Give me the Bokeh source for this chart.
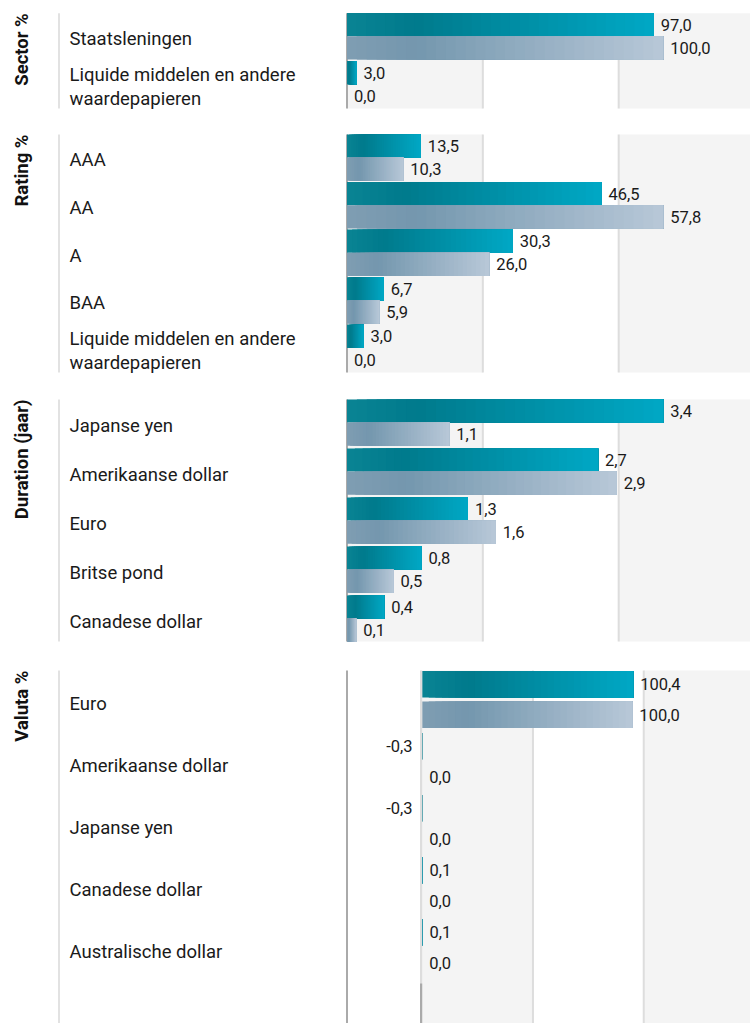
import numpy as np
from bokeh.plotting import figure
from bokeh.layouts import column
from bokeh.models import Range1d, ColumnDataSource
from bokeh.core.properties import value
from bokeh.embed import file_html
from bokeh.resources import INLINE

# ---------------- data ----------------
sector_title = "Sector %"
sector_cats = ["Staatsleningen", "Liquide middelen en andere\nwaardepapieren"]
sector_fund = [97.0, 3.0]
sector_bench = [100.0, 0.0]

rating_title = "Rating %"
rating_cats = ["AAA", "AA", "A", "BAA", "Liquide middelen en andere\nwaardepapieren"]
rating_fund = [13.5, 46.5, 30.3, 6.7, 3.0]
rating_bench = [10.3, 57.8, 26.0, 5.9, 0.0]

duration_title = "Duration (jaar)"
duration_cats = ["Japanse yen", "Amerikaanse dollar", "Euro", "Britse pond", "Canadese dollar"]
duration_fund = [3.4, 2.7, 1.3, 0.8, 0.4]
duration_bench = [1.1, 2.9, 1.6, 0.5, 0.1]

valuta_title = "Valuta %"
valuta_cats = ["Euro", "Amerikaanse dollar", "Japanse yen", "Canadese dollar", "Australische dollar"]
valuta_fund = [100.4, -0.3, -0.3, 0.1, 0.1]
valuta_bench = [100.0, 0.0, 0.0, 0.0, 0.0]

# ---------------- layout / style ----------------
PAGE_X0 = 0
FIG_W = 750
FONT = "Roboto"
TEXT_COLOR = "#1a1a1a"
BAND_COLOR = "#f4f4f4"
GRID_COLOR = "#dddddd"
AXIS_COLOR = "#aaaaaa"
SEP_COLOR = "#d9d9d9"
TEAL_STOPS = [(0.0, (10, 132, 148)), (0.22, (0, 122, 140)), (1.0, (0, 168, 197))]
GREY_STOPS = [(0.0, (127, 157, 178)), (0.22, (116, 151, 174)), (1.0, (184, 200, 216))]
N_SLICES = 32

COMMON = dict(sep_px=58.5, label_px=69, title_px=21.5, band_end=754, axis_px=346.5)
SPECS = [
    dict(fig_top=0, fig_h=121, panel_top=12.7, pitch=48.0, region_bottom=108,
         zero_px=346.5, max_px=662.7, fund_c=11.5, bench_c=34.7, bar_h=23.2, dark_zero_from=None),
    dict(fig_top=121, fig_h=265, panel_top=134, pitch=47.6, region_bottom=372,
         zero_px=346.5, max_px=662.7, fund_c=11.5, bench_c=34.7, bar_h=23.2, dark_zero_from=None),
    dict(fig_top=386, fig_h=270, panel_top=399, pitch=49.0, region_bottom=641,
         zero_px=346.5, max_px=662.7, fund_c=11.5, bench_c=34.7, bar_h=23.2, dark_zero_from=None),
    dict(fig_top=656, fig_h=367, panel_top=670, pitch=62.0, region_bottom=None,
         zero_px=421.7, max_px=632.7, fund_c=13.7, bench_c=44.2, bar_h=26.5, dark_zero_from=983),
]


def interp_color(stops, t):
    for (t0, c0), (t1, c1) in zip(stops[:-1], stops[1:]):
        if t <= t1:
            f = (t - t0) / (t1 - t0) if t1 > t0 else 0
            c = [round(a + (b - a) * f) for a, b in zip(c0, c1)]
            return "#%02x%02x%02x" % tuple(c)
    return "#%02x%02x%02x" % stops[-1][1]


def fmt(v):
    return ("%.1f" % v).replace(".", ",")


def build(title, cats, fund, bench, spec):
    spec = {**COMMON, **spec}
    n = len(cats)
    pitch = spec["pitch"]
    vmax = max(max(fund), max(bench))
    u = vmax / (spec["max_px"] - spec["zero_px"])

    def dx(ax):
        return (ax - spec["zero_px"]) * u

    def dy(ay):
        return (ay - spec["panel_top"]) / pitch

    fig_top = spec["fig_top"]
    fig_bot = fig_top + spec["fig_h"]
    p = figure(width=FIG_W, height=spec["fig_h"],
               x_range=Range1d(dx(PAGE_X0), dx(PAGE_X0 + FIG_W)),
               y_range=Range1d(dy(fig_bot), dy(fig_top)),
               x_axis_type=None, y_axis_type=None, toolbar_location=None,
               output_backend="svg", min_border=0, outline_line_color=None,
               background_fill_color="white", border_fill_color="white")

    reg_bot = dy(spec["region_bottom"]) if spec["region_bottom"] else dy(fig_bot + 2)

    # alternating background bands and grid lines
    bw = (spec["band_end"] - spec["zero_px"]) / 3 * u
    p.quad(left=[0, 2 * bw], right=[bw, 3 * bw], top=0, bottom=reg_bot,
           fill_color=BAND_COLOR, line_color=None)
    p.segment(x0=[bw, 2 * bw], x1=[bw, 2 * bw], y0=0, y1=reg_bot,
              line_color=GRID_COLOR, line_width=2)
    # left separator and axis lines
    p.segment(x0=[dx(spec["sep_px"])], x1=[dx(spec["sep_px"])], y0=0, y1=reg_bot,
              line_color=SEP_COLOR, line_width=1.5)
    p.segment(x0=[dx(spec["axis_px"])], x1=[dx(spec["axis_px"])], y0=0, y1=reg_bot,
              line_color=AXIS_COLOR, line_width=2)

    # gradient bars (painted as overlapping slices)
    ys, lefts, rights, cols = [], [], [], []
    for vals, c_px, stops in ((fund, spec["fund_c"], TEAL_STOPS), (bench, spec["bench_c"], GREY_STOPS)):
        for i, v in enumerate(vals):
            if v == 0:
                continue
            for k in range(N_SLICES):
                ys.append(i + c_px / pitch)
                lefts.append(v * k / N_SLICES)
                rights.append(v)
                cols.append(interp_color(stops, (k + 0.5) / N_SLICES))
    src = ColumnDataSource(dict(y=ys, left=lefts, right=rights, color=cols))
    p.hbar(y="y", left="left", right="right", height=spec["bar_h"] / pitch,
           fill_color="color", line_color=None, source=src)

    # separate zero line (when the zero is not at the axis), drawn over tiny negative bars
    if spec["axis_px"] != spec["zero_px"]:
        zx = -1.1 * u
        p.segment(x0=[zx], x1=[zx], y0=0, y1=reg_bot, line_color=GRID_COLOR, line_width=2.2)
        if spec["dark_zero_from"]:
            p.segment(x0=[zx], x1=[zx], y0=dy(spec["dark_zero_from"]), y1=reg_bot,
                      line_color=AXIS_COLOR, line_width=2.2)

    # value labels
    pos = dict(x=[], y=[], t=[])
    neg = dict(x=[], y=[], t=[])
    for vals, c_px in ((fund, spec["fund_c"]), (bench, spec["bench_c"])):
        for i, v in enumerate(vals):
            d = neg if v < 0 else pos
            d["x"].append(v)
            d["y"].append(i + c_px / pitch)
            d["t"].append(fmt(v))
    p.text(x="x", y="y", text="t", source=ColumnDataSource(pos), x_offset=7,
           text_align="left", text_baseline="middle", text_font=value(FONT),
           text_font_size="16.5px", text_color=TEXT_COLOR)
    if neg["x"]:
        p.text(x="x", y="y", text="t", source=ColumnDataSource(neg), x_offset=-9,
               text_align="right", text_baseline="middle", text_font=value(FONT),
               text_font_size="16.5px", text_color=TEXT_COLOR)

    # category labels
    p.text(x=dx(spec["label_px"]), y=[i + 0.5 for i in range(n)], text=cats,
           text_align="left", text_baseline="middle", text_font=value(FONT),
           text_font_size="18.5px", text_color=TEXT_COLOR, text_line_height=1.1,
           y_offset=2)

    # rotated panel title
    p.text(x=[dx(spec["title_px"])], y=[0], text=[title], angle=np.pi / 2,
           text_align="right", text_baseline="middle", text_font=value(FONT),
           text_font_size="18.5px", text_font_style="bold", text_color="#111111")
    return p


panels = [
    build(sector_title, sector_cats, sector_fund, sector_bench, SPECS[0]),
    build(rating_title, rating_cats, rating_fund, rating_bench, SPECS[1]),
    build(duration_title, duration_cats, duration_fund, duration_bench, SPECS[2]),
    build(valuta_title, valuta_cats, valuta_fund, valuta_bench, SPECS[3]),
]

layout = column(*panels, spacing=0)
open("out.html", "w").write(file_html(layout, INLINE))
